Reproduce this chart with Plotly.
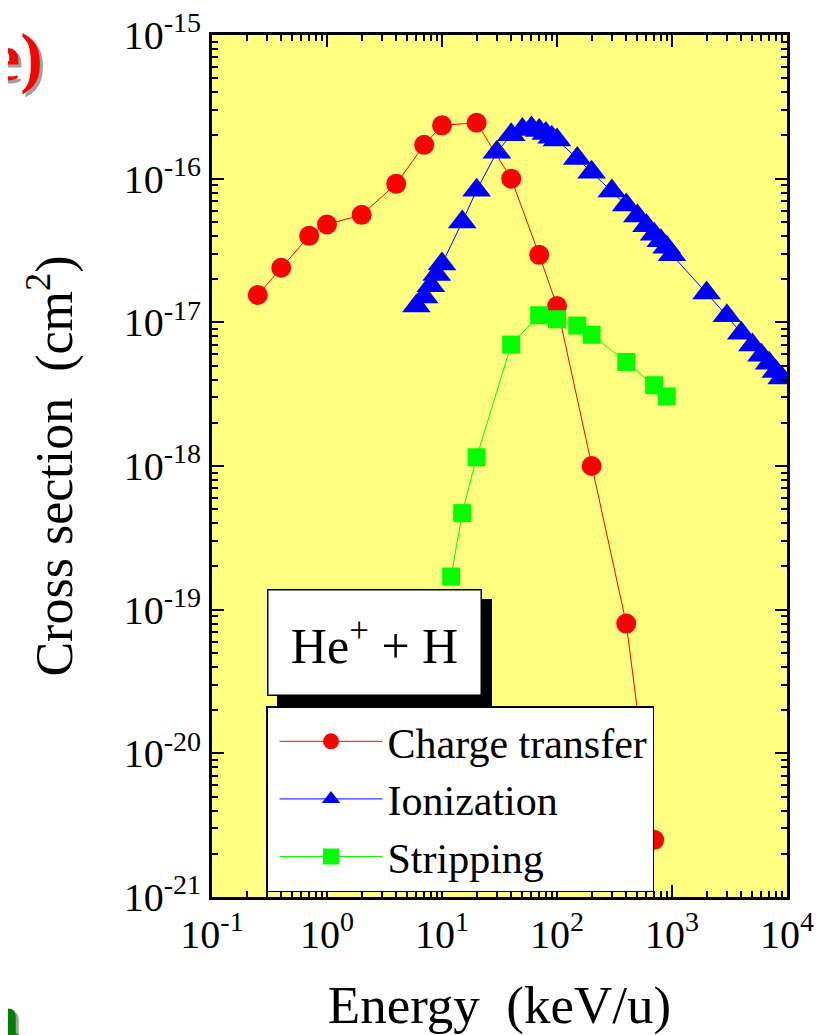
import plotly.graph_objects as go

# ---- data ----
ct_energy = [0.25, 0.4, 0.7, 1, 2, 4, 7, 10, 20, 40, 70, 100, 200, 400, 700]
ct_sigma = [1.55e-17, 2.4e-17, 4.0e-17, 4.8e-17, 5.6e-17, 9.2e-17, 1.72e-16, 2.35e-16,
            2.45e-16, 1.0e-16, 2.95e-17, 1.3e-17, 1.0e-18, 8.0e-20, 2.5e-21]

ion_energy = [6, 7, 8, 9, 10, 15, 20, 30, 40, 50, 60, 70, 80, 90, 100, 150, 200, 300, 400,
              500, 600, 700, 800, 900, 1000, 2000, 3000, 4000, 5000, 6000, 7000, 8000, 9000]
ion_sigma = [1.3e-17, 1.5e-17, 1.8e-17, 2.15e-17, 2.55e-17, 5.0e-17, 8.3e-17, 1.53e-16,
             2.02e-16, 2.2e-16, 2.25e-16, 2.16e-16, 2.06e-16, 1.94e-16, 1.86e-16, 1.38e-16,
             1.11e-16, 8.2e-17, 6.55e-17, 5.5e-17, 4.7e-17, 4.1e-17, 3.7e-17, 3.33e-17,
             2.95e-17, 1.6e-17, 1.11e-17, 8.4e-18, 6.95e-18, 5.9e-18, 5.2e-18, 4.55e-18, 4.1e-18]

st_energy = [12, 15, 20, 40, 70, 100, 150, 200, 400, 700, 900]
st_sigma = [1.7e-19, 4.7e-19, 1.15e-18, 7.0e-18, 1.12e-17, 1.05e-17, 9.5e-18, 8.2e-18,
            5.3e-18, 3.65e-18, 3.05e-18]

x_exponents = [-1, 0, 1, 2, 3, 4]
y_exponents = [-21, -20, -19, -18, -17, -16, -15]

FONT = "Liberation Serif, Times New Roman, serif"

fig = go.Figure()
fig.add_trace(go.Scatter(x=ct_energy, y=ct_sigma, mode="lines+markers", name="Charge transfer",
                         line=dict(color="#FF0000", width=1),
                         marker=dict(symbol="circle", size=20, color="#FF0000")))
fig.add_trace(go.Scatter(x=ion_energy, y=ion_sigma, mode="lines+markers", name="Ionization",
                         line=dict(color="#0000FF", width=1),
                         marker=dict(symbol="triangle-up", size=25, color="#0000FF")))
fig.add_trace(go.Scatter(x=st_energy, y=st_sigma, mode="lines+markers", name="Stripping",
                         line=dict(color="#00FF00", width=1),
                         marker=dict(symbol="square", size=18, color="#00FF00")))

def minor_vals(exps):
    vals = []
    for e in exps[:-1]:
        for m in range(2, 10):
            vals.append(m * 10.0 ** e)
    return vals

axis_common = dict(
    type="log", showline=True, linecolor="black", linewidth=3, mirror="ticks",
    ticks="inside", ticklen=12, tickwidth=2, tickcolor="black", showgrid=False,
    zeroline=False, tickfont=dict(family=FONT, size=40, color="black"),
    ticklabeloverflow="allow",
)

fig.update_xaxes(
    **axis_common,
    range=[-1, 4],
    tickmode="array",
    tickvals=[10.0 ** e for e in x_exponents],
    ticktext=["10<sup>%d</sup>" % e for e in x_exponents],
    minor=dict(tickmode="array", tickvals=minor_vals(x_exponents), ticks="inside",
               ticklen=6, tickwidth=2, tickcolor="black", showgrid=False),
    title=dict(text="Energy&nbsp; (keV/u)", font=dict(family=FONT, size=53, color="black"),
               standoff=34),
)
fig.update_yaxes(
    **axis_common,
    range=[-21, -15],
    tickmode="array",
    tickvals=[10.0 ** e for e in y_exponents],
    ticktext=["10<sup>%d</sup>" % e for e in y_exponents],
    minor=dict(tickmode="array", tickvals=minor_vals(y_exponents), ticks="inside",
               ticklen=6, tickwidth=2, tickcolor="black", showgrid=False),
    title=dict(text="Cross section&nbsp; (cm<sup>2</sup>)", font=dict(family=FONT, size=52, color="black"),
               standoff=35),
)

# page offset of the figure (browser default body margin)
OFF = 8
W, H = 832 - OFF, 1035 - OFF
L, R, T, B = 212, 787, 35, 897   # plot area in page pixels

def px(xp):
    return (xp - L) / (R - L)

def py(yp):
    return (B - yp) / (B - T)

# shadow of the He+ + H label box
fig.add_shape(type="rect", xref="paper", yref="paper", layer="above",
              x0=px(277), x1=px(492), y0=py(706), y1=py(599),
              fillcolor="black", line=dict(width=0))

fig.add_annotation(xref="paper", yref="paper", x=px(374.5), y=py(642.5),
                   xanchor="center", yanchor="middle", showarrow=False,
                   text="He<sup>+</sup> + H", width=212, height=104,
                   font=dict(family=FONT, size=50, color="black"),
                   bgcolor="white", bordercolor="black", borderwidth=1.5, borderpad=0)

# cut-off slide text fragments at the left edge
for dx, dy, col in [(3, 3, "#A0A0A0"), (0, 0, "#FF0000")]:
    fig.add_annotation(xref="paper", yref="paper", x=px(45 + dx), y=py(57 + dy),
                       xanchor="right", yanchor="middle", showarrow=False, text="<b>e)</b>",
                       font=dict(family=FONT, size=68, color=col))
for dx, dy, col in [(3, 3, "#A0A0A0"), (0, 0, "#008000")]:
    fig.add_annotation(xref="paper", yref="paper", x=px(21 + dx), y=py(1016 + dy),
                       xanchor="right", yanchor="middle", showarrow=False, text="<b>n</b>",
                       font=dict(family=FONT, size=60, color=col))

fig.update_layout(
    width=W, height=H,
    margin=dict(l=L - OFF, r=W - (R - OFF), t=T - OFF, b=H - (B - OFF), autoexpand=False),
    paper_bgcolor="white", plot_bgcolor="#FFFF80",
    showlegend=True,
    legend=dict(x=px(266), y=py(706), xanchor="left", yanchor="top",
                bgcolor="white", bordercolor="black", borderwidth=1.5,
                font=dict(family=FONT, size=42, color="black"),
                itemwidth=103, indentation=7, tracegroupgap=0),
)

fig.write_html("out.html")
